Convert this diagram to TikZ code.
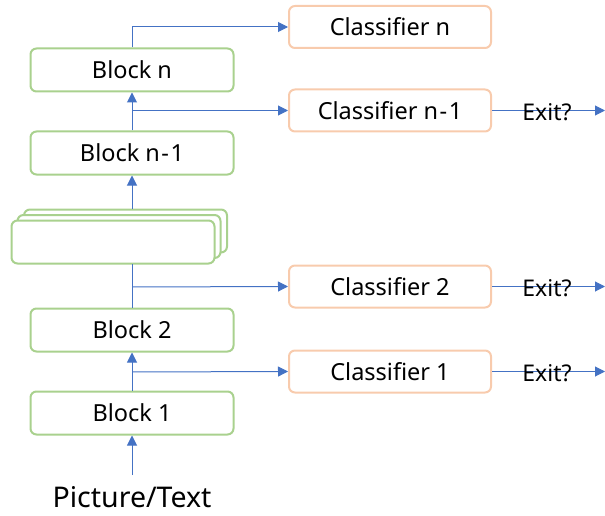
\documentclass[tikz,border=0pt]{standalone}
\usepackage{fontspec}
\setmainfont{Noto Sans}
\usetikzlibrary{arrows.meta}
\definecolor{bgreen}{HTML}{A9D18E}
\definecolor{corange}{HTML}{F8CBAD}
\definecolor{lblue}{HTML}{4472C4}
\begin{document}
\begin{tikzpicture}[x=1pt,y=-1pt,
  blockbox/.style={draw=bgreen,line width=2pt,rounded corners=6pt,minimum width=203pt,minimum height=43pt,inner sep=0pt,font=\fontsize{23.5}{27}\selectfont},
  clsbox/.style={draw=corange,line width=2pt,rounded corners=6pt,minimum width=202pt,minimum height=42pt,inner sep=0pt,font=\fontsize{23.5}{27}\selectfont},
  conn/.style={draw=lblue,line width=1pt},
  arr/.style={conn,-{Triangle[length=10pt,width=10pt]}},
  lbl/.style={font=\fontsize{23}{27}\selectfont,inner sep=0pt}]
\useasboundingbox (0,0) rectangle (605,516);
% blocks
\node[blockbox] (bn) at (132,70) {Block n};
\node[blockbox] (bn1) at (132,153) {Block n\kern1.5pt-\kern1.5pt1};
\node[blockbox,fill=white] (s3) at (125.5,231) {};
\node[blockbox,fill=white] (s2) at (119,236.5) {};
\node[blockbox,fill=white] (s1) at (113,242) {};
\node[blockbox] (b2) at (132,330) {Block 2};
\node[blockbox] (b1) at (132,413) {Block 1};
\node[font=\fontsize{28.5}{33}\selectfont,inner sep=0pt] (inp) at (132,497) {Picture/Text};
% classifiers
\node[clsbox] (cn) at (390,27) {Classifier n};
\node[clsbox] (cn1) at (390,110.5) {Classifier n\kern1.5pt-\kern1.5pt1};
\node[clsbox] (c2) at (390,286.5) {Classifier 2};
\node[clsbox] (c1) at (390,371.5) {Classifier 1};
% branch coordinates
\coordinate (j1) at (132,372);
\coordinate (j2) at (132,287);
\coordinate (jn1) at (132,110.5);
\coordinate (jn) at (132,27);
\coordinate (st) at (132,209);
\coordinate (sb) at (132,264);
% vertical connectors
\draw[arr] (inp.north |- 0,475) -- (b1.south);
\draw[arr] (b1.north) -- (b2.south);
\draw[conn] (b2.north) -- (sb);
\draw[arr] (st) -- (bn1.south);
\draw[arr] (bn1.north) -- (bn.south);
\draw[conn] (bn.north) -- (jn);
% branches
\draw[arr] (j1) -- (c1.west);
\draw[arr] (j2) -- (c2.west);
\draw[arr] (jn1) -- (cn1.west);
\draw[arr] (jn) -- (cn.west);
% exits
\coordinate (e1) at (605,371.5);
\coordinate (e2) at (605,286.5);
\coordinate (en1) at (605,110.5);
\draw[arr] (c1.east) -- (e1);
\draw[arr] (c2.east) -- (e2);
\draw[arr] (cn1.east) -- (en1);
\node[lbl] (x1) at (547,373) {Exit?};
\node[lbl] (x2) at (547,288) {Exit?};
\node[lbl] (xn1) at (547,112) {Exit?};
\end{tikzpicture}
\end{document}
